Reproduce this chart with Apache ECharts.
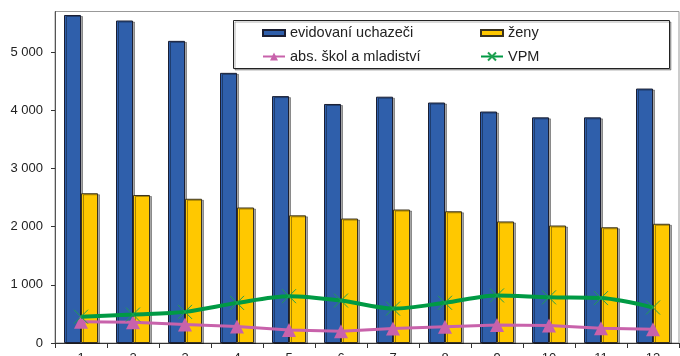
<!DOCTYPE html>
<html>
<head>
<meta charset="utf-8">
<script src="https://cdn.jsdelivr.net/npm/echarts@6/dist/echarts.min.js"></script>
<style>html,body{margin:0;padding:0;background:#fff}#c{width:680px;height:356px}</style>
</head>
<body>
<div id="c"></div>
<script>
var categories = ['1','2','3','4','5','6','7','8','9','10','11','12'];
var uchazeci = [5640, 5545, 5195, 4645, 4245, 4110, 4235, 4135, 3980, 3880, 3880, 4375];
var zeny = [2575, 2545, 2480, 2330, 2195, 2140, 2295, 2265, 2090, 2020, 1990, 2050];
var absolventi = [365, 355, 320, 285, 225, 200, 248, 280, 310, 300, 252, 235];
var vpm = [452, 490, 535, 690, 805, 730, 592, 692, 818, 785, 772, 610];
var seriesNames = ['evidovaní uchazeči', 'ženy', 'abs. škol a mladiství', 'VPM'];

var FONT = '"Liberation Sans", Arial, sans-serif';
var chart = echarts.init(document.getElementById('c'), null, {renderer: 'canvas'});
var barShadow = {shadowColor: 'rgba(0,0,0,0.35)', shadowOffsetX: 2, shadowOffsetY: 1, shadowBlur: 0};
function leg(name, left, top, h, icon) {
  var o = {
    data: [name], left: left, top: top, itemWidth: 22, itemHeight: h, itemGap: 0,
    padding: 0, selectedMode: false,
    textStyle: {fontFamily: FONT, fontSize: 14.5, color: '#222'}
  };
  if (icon) o.icon = icon;
  return o;
}
chart.setOption({
  animation: false,
  grid: {left: 55, right: 1, top: 11.5, bottom: 13, show: true, borderColor: '#999', borderWidth: 1,
         containLabel: false, outerBoundsMode: 'none'},
  graphic: [{
    type: 'rect', z: 1, shape: {x: 233.5, y: 20.5, width: 436, height: 48},
    style: {fill: '#fff', stroke: '#222', lineWidth: 1, shadowColor: 'rgba(0,0,0,0.3)', shadowOffsetX: 1.5, shadowOffsetY: 1.5}
  }],
  legend: [
    leg(seriesNames[0], 262, 25.5, 6, 'rect'),
    leg(seriesNames[1], 480, 25.5, 6, 'rect'),
    leg(seriesNames[2], 262, 49, 10),
    leg(seriesNames[3], 480, 49, 10)
  ],
  xAxis: {
    type: 'category', data: categories,
    axisLine: {lineStyle: {color: '#333', width: 1}},
    axisTick: {show: true, length: 5, lineStyle: {color: '#333'}},
    axisLabel: {fontFamily: FONT, fontSize: 13, color: '#222', margin: 9}
  },
  yAxis: {
    type: 'value', min: 0, max: 5700, interval: 1000,
    axisLine: {show: true, lineStyle: {color: '#555', width: 1}},
    axisTick: {show: true, length: 4, lineStyle: {color: '#333'}},
    splitLine: {show: false},
    axisLabel: {
      fontFamily: FONT, fontSize: 13, color: '#222', margin: 12, showMaxLabel: false,
      formatter: function (v) { return String(v).replace(/\B(?=(\d{3})+(?!\d))/g, ' '); }
    }
  },
  series: [
    {
      name: seriesNames[0], type: 'bar', data: uchazeci, barWidth: 17, barGap: '0%',
      itemStyle: Object.assign({color: '#2f5fab', borderColor: '#1b1f33', borderWidth: 1}, barShadow)
    },
    {
      name: seriesNames[1], type: 'bar', data: zeny, barWidth: 17, barGap: '0%',
      itemStyle: Object.assign({color: '#ffc800', borderColor: '#3a3320', borderWidth: 1}, barShadow)
    },
    {
      name: seriesNames[2], type: 'line', data: absolventi, z: 3,
      symbol: 'triangle', symbolSize: 14,
      lineStyle: {color: '#c862ab', width: 3},
      itemStyle: {color: '#c862ab'}
    },
    {
      name: seriesNames[3], type: 'line', data: vpm, z: 4, smooth: 0.3,
      symbol: 'path://M0,0L10,10M10,0L0,10', symbolSize: 14,
      lineStyle: {color: '#009a44', width: 4},
      itemStyle: {color: 'rgba(0,0,0,0)', borderColor: '#1fa050', borderWidth: 1}
    }
  ]
});
</script>
</body>
</html>
